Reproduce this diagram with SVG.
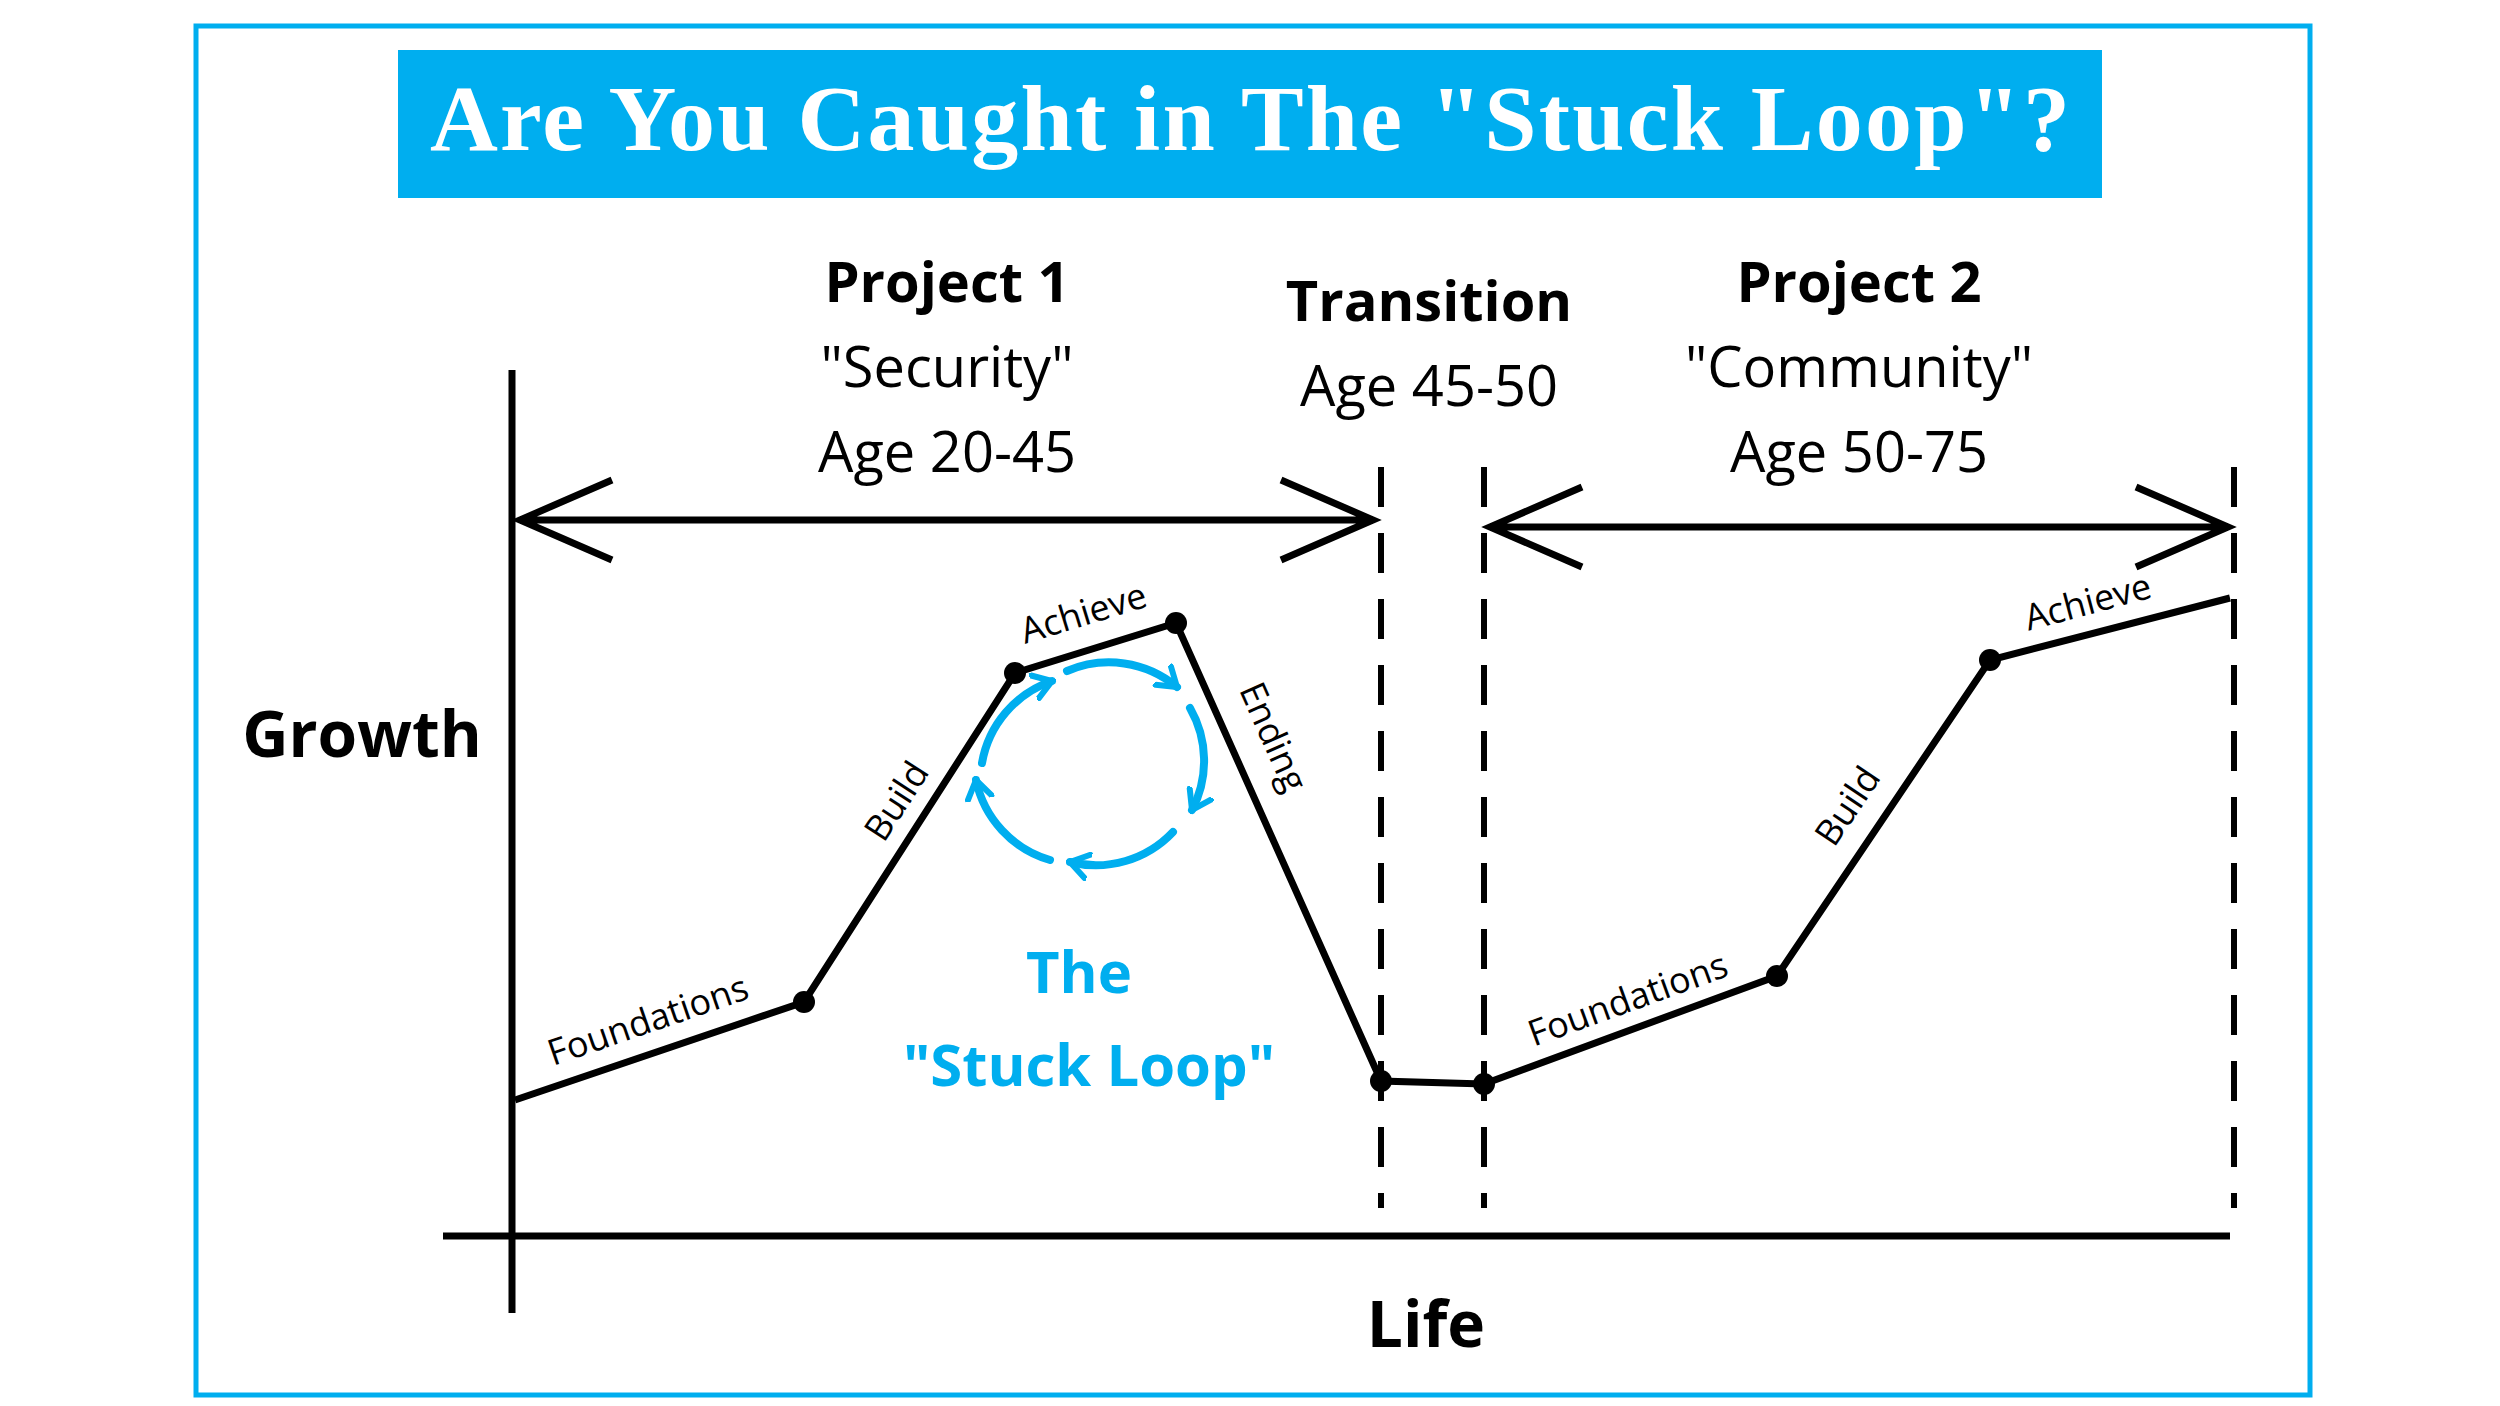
<svg xmlns="http://www.w3.org/2000/svg" width="2500" height="1406" viewBox="0 0 2500 1406">
<style>
.t{font-family:"Open Sans","Liberation Sans",sans-serif;fill:#000;text-anchor:middle}
.b{font-weight:bold}
.h{font-size:56px}
.s{font-size:36px}
.c{fill:#00aeef;font-weight:bold;font-size:58px}
.ln{stroke:#000;stroke-width:7;fill:none}
.ds{stroke:#000;stroke-width:6;stroke-dasharray:40,26}
.lp{stroke:#00aeef;stroke-width:8;fill:none;stroke-linecap:round;marker-end:url(#ca)}
</style>
<defs>
<marker id="ca" viewBox="-20 -15 24 30" markerWidth="24" markerHeight="30" markerUnits="userSpaceOnUse" orient="auto" refX="0" refY="0"><path d="M-18,-12 L0,0 L-18,12" fill="none" stroke="#00aeef" stroke-width="6" stroke-linecap="round"/></marker>
</defs>
<rect x="0" y="0" width="2500" height="1406" fill="#fff"/>
<rect x="196" y="26" width="2114" height="1369" fill="none" stroke="#00aeef" stroke-width="5"/>
<g id="title"><rect x="398" y="50" width="1704" height="148" fill="#00aeef"/>
<text x="1250" y="150" font-family="Liberation Serif,serif" font-weight="bold" font-size="94" fill="#fff" text-anchor="middle" textLength="1640">Are You Caught in The "Stuck Loop"?</text></g>
<g id="axes"><line class="ln" x1="512" y1="370" x2="512" y2="1313" stroke-width="9"/><line class="ln" x1="443" y1="1236" x2="2230" y2="1236" stroke-width="9"/></g>
<g id="connectors">
<line class="ds" x1="1381" y1="467" x2="1381" y2="1208"/><line class="ds" x1="1484" y1="467" x2="1484" y2="1208"/><line class="ds" x1="2234" y1="467" x2="2234" y2="1208"/>
<path class="ln" stroke-width="5" d="M520,520 H1373 M612,480 L520,520 L612,560 M1281,480 L1373,520 L1281,560"/>
<path class="ln" stroke-width="5" d="M1490,527 H2228 M1582,487 L1490,527 L1582,567 M2136,487 L2228,527 L2136,567"/>
<polyline class="ln" points="515,1100 804,1002 1015,673 1176,623 1381,1081 1484,1084 1777,976 1990,660 2230,598"/>
<path class="lp" d="M1067,671 A106,106 0 0 1 1177,687"/>
<path class="lp" d="M1190,708 A106,106 0 0 1 1192,810"/>
<path class="lp" d="M1173,832 A106,106 0 0 1 1070,862"/>
<path class="lp" d="M1050,860 A106,106 0 0 1 976,780"/>
<path class="lp" d="M982,763 A106,106 0 0 1 1052,681"/>
</g>
<g id="dots" fill="#000"><circle cx="804" cy="1002" r="11"/><circle cx="1015" cy="673" r="11"/><circle cx="1176" cy="623" r="11"/><circle cx="1381" cy="1081" r="11"/><circle cx="1484" cy="1084" r="11"/><circle cx="1777" cy="976" r="11"/><circle cx="1990" cy="660" r="11"/></g>
<g id="labels">
<text class="t b h" x="947" y="302">Project 1</text>
<text class="t h" x="947" y="387">"Security"</text>
<text class="t h" x="947" y="472">Age 20-45</text>
<text class="t b h" x="1429" y="321">Transition</text>
<text class="t h" x="1429" y="406">Age 45-50</text>
<text class="t b h" x="1859" y="302">Project 2</text>
<text class="t h" x="1859" y="387">"Community"</text>
<text class="t h" x="1859" y="472">Age 50-75</text>
<text class="t b" x="362" y="757" font-size="64">Growth</text>
<text class="t b" x="1426" y="1347" font-size="64">Life</text>
<text class="t c" x="1079" y="993">The</text>
<text class="t c" x="1089" y="1086">"Stuck Loop"</text>
<text class="t s" transform="translate(652,1032) rotate(-19)">Foundations</text>
<text class="t s" transform="translate(907,808) rotate(-57)">Build</text>
<text class="t s" transform="translate(1087,625) rotate(-17)">Achieve</text>
<text class="t s" transform="translate(1262,742) rotate(66)">Ending</text>
<text class="t s" transform="translate(1632,1011) rotate(-20)">Foundations</text>
<text class="t s" transform="translate(1858,813) rotate(-56)">Build</text>
<text class="t s" transform="translate(2091,614) rotate(-15)">Achieve</text>
</g>
</svg>
